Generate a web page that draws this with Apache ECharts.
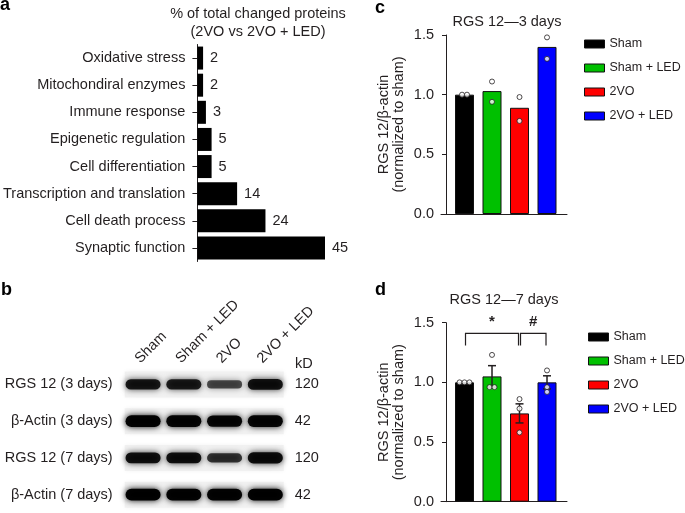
<!DOCTYPE html>
<html>
<head>
<meta charset="utf-8">
<script src="https://cdn.jsdelivr.net/npm/echarts@6/dist/echarts.min.js"></script>
<style>
  html, body { margin: 0; padding: 0; background: #fff; }
  #main { width: 685px; height: 513px; }
</style>
</head>
<body>
<div id="main"></div>
<script>
var font = '"Liberation Sans", Arial, Helvetica, sans-serif';
var ink = '#231f20';
var fs = 14.5;

// panel a - proteomics categories
var proteinCats = ['Oxidative stress', 'Mitochondiral enzymes', 'Immune response', 'Epigenetic regulation',
    'Cell differentiation', 'Transcription and translation', 'Cell death process', 'Synaptic function'];
var proteinPct = [2, 2, 3, 5, 5, 14, 24, 45];

// groups shared by b, c, d
var groups = ['Sham', 'Sham + LED', '2VO', '2VO + LED'];
var groupColors = ['#000000', '#00c000', '#ff0000', '#0000ff'];

// panel c - 3 days
var day3Mean = [1.0, 1.03, 0.89, 1.40];
var day3Points = [[1.0, 1.0], [1.11, 0.94], [0.98, 0.78], [1.48, 1.30]];

// panel d - 7 days
var day7Mean = [1.0, 1.05, 0.74, 1.0];
var day7Sem = [0, 0.09, 0.08, 0.055];
var day7Points = [[1.0, 1.0, 1.0], [1.23, 0.96, 0.96], [0.86, 0.78, 0.58], [1.10, 0.96, 0.92]];
var day7Compare = [[0, 2], [2, 3]];
var compareMarks = ['*', '#'];
var compareLevel = 1.41;

// panel b - western blot
var blotRows = ['RGS 12 (3 days)', 'β-Actin (3 days)', 'RGS 12 (7 days)', 'β-Actin (7 days)'];
var blotKd = ['120', '42', '120', '42'];
var bandDensity = [
    [0.80, 0.78, 0.52, 0.84],
    [0.97, 0.95, 0.93, 0.94],
    [0.85, 0.85, 0.64, 0.88],
    [0.97, 0.96, 0.96, 0.98]
];

// spread dots that share (nearly) the same value
function jitter(vals, gi) {
    return vals.map(function (v, k) {
        var same = [];
        vals.forEach(function (w, j) { if (Math.abs(w - v) < 0.03) same.push(j); });
        var rank = same.indexOf(k);
        return [gi + (rank - (same.length - 1) / 2) * 0.18, v];
    });
}

function dotSeries(points, ax) {
    var data = [];
    points.forEach(function (p, i) { data = data.concat(jitter(p, i)); });
    return {
        type: 'scatter', xAxisIndex: ax, yAxisIndex: ax, data: data, symbolSize: 5, z: 6,
        itemStyle: { color: '#fff', borderColor: ink, borderWidth: 1 }, silent: true
    };
}

function barSeries(means, ax) {
    return means.map(function (m, i) {
        return {
            type: 'bar', name: groups[i], xAxisIndex: ax, yAxisIndex: ax,
            data: [[i, m]], barWidth: 19, barGap: '-100%',
            itemStyle: { color: groupColors[i], borderColor: '#111', borderWidth: 1 }, silent: true
        };
    });
}

function valueX(gi) {
    return {
        type: 'value', gridIndex: gi, min: -0.855, max: 3.727,
        axisLine: { show: true, onZero: false, lineStyle: { color: ink, width: 1 } },
        axisTick: { show: false }, axisLabel: { show: false }, splitLine: { show: false }
    };
}

function valueY(gi) {
    return {
        type: 'value', gridIndex: gi, min: 0, max: 1.5, interval: 0.5, offset: -5,
        axisLine: { show: true, onZero: false, lineStyle: { color: ink, width: 1 } },
        axisTick: { show: true, length: 4, lineStyle: { color: ink } },
        axisLabel: { fontSize: fs, color: ink, margin: 12, formatter: function (v) { return v.toFixed(1); } },
        splitLine: { show: false },
        name: 'RGS 12/β-actin\n(normalized to sham)', nameLocation: 'middle', nameGap: 40,
        nameTextStyle: { fontSize: fs, color: ink, lineHeight: 15 }
    };
}

function legendAt(left, top) {
    return {
        data: groups, orient: 'vertical', left: left, top: top, icon: 'rect', padding: 0,
        itemWidth: 20, itemHeight: 8, itemGap: 8, selectedMode: false,
        itemStyle: { borderColor: '#111', borderWidth: 1 },
        textStyle: { fontSize: 12.5, color: ink, lineHeight: 16 }
    };
}

var errorData = [];
day7Mean.forEach(function (m, i) {
    if (day7Sem[i] > 0) errorData.push([i, m - day7Sem[i], m + day7Sem[i]]);
});

var bandData = [];
bandDensity.forEach(function (row, r) {
    row.forEach(function (d, l) { bandData.push([l, r, d]); });
});

var option = {
    animation: false,
    textStyle: { fontFamily: font },
    title: [
        { text: '% of total changed proteins\n(2VO vs 2VO + LED)', left: 253, top: 0, textAlign: 'center',
          textStyle: { fontSize: fs, fontWeight: 'normal', color: ink, lineHeight: 18 } },
        { text: 'RGS 12\u20143 days', left: 502, top: 9, textAlign: 'center',
          textStyle: { fontSize: fs, fontWeight: 'normal', color: ink, lineHeight: 16 } },
        { text: 'RGS 12\u20147 days', left: 499, top: 287, textAlign: 'center',
          textStyle: { fontSize: fs, fontWeight: 'normal', color: ink, lineHeight: 16 } }
    ],
    legend: [legendAt(584, 36), legendAt(588, 329)],
    grid: [
        { left: 196, top: 44.5, width: 129, height: 217 },
        { left: 441, top: 35, width: 126, height: 179 },
        { left: 441, top: 322.7, width: 126, height: 179 },
        { left: 122.7, top: 366, width: 163, height: 149 },
        { left: 117, top: 366, width: 163, height: 10 }
    ],
    xAxis: [
        { type: 'value', gridIndex: 0, min: 0, max: 45, show: false },
        valueX(1),
        valueX(2),
        { type: 'category', gridIndex: 3, data: groups, show: false },
        { type: 'category', gridIndex: 4, data: groups, position: 'top',
          axisLine: { show: false }, axisTick: { show: false },
          axisLabel: { interval: 0, rotate: 45, margin: 5, fontSize: fs, color: ink } }
    ],
    yAxis: [
        { type: 'category', gridIndex: 0, data: proteinCats, inverse: true,
          axisLine: { show: true, lineStyle: { color: ink } },
          axisTick: { show: true, length: 5, alignWithLabel: true, lineStyle: { color: ink } },
          axisLabel: { fontSize: fs, color: ink, margin: 12 } },
        valueY(1),
        valueY(2),
        { type: 'category', gridIndex: 3, data: blotRows, inverse: true,
          axisLine: { show: false }, axisTick: { show: false },
          axisLabel: { fontSize: fs, color: ink, margin: 10 } },
        { type: 'category', gridIndex: 3, data: blotKd, inverse: true, position: 'right',
          axisLine: { show: false }, axisTick: { show: false },
          axisLabel: { fontSize: fs, color: ink, margin: 9 } },
        { type: 'value', gridIndex: 4, show: false }
    ],
    series: [
        { type: 'bar', xAxisIndex: 0, yAxisIndex: 0, data: proteinPct, barWidth: 23, silent: true,
          itemStyle: { color: '#000' },
          label: { show: true, position: 'right', distance: 7, fontSize: fs, color: ink } }
    ].concat(barSeries(day3Mean, 1), barSeries(day7Mean, 2), [
        {
            type: 'custom', xAxisIndex: 2, yAxisIndex: 2, data: errorData, z: 5, silent: true,
            encode: { x: 0, y: [1, 2] },
            renderItem: function (params, api) {
                var lo = api.coord([api.value(0), api.value(1)]);
                var hi = api.coord([api.value(0), api.value(2)]);
                var st = { stroke: ink, lineWidth: 1.5 };
                return { type: 'group', children: [
                    { type: 'line', shape: { x1: lo[0], y1: lo[1], x2: hi[0], y2: hi[1] }, style: st },
                    { type: 'line', shape: { x1: hi[0] - 4, y1: hi[1], x2: hi[0] + 4, y2: hi[1] }, style: st },
                    { type: 'line', shape: { x1: lo[0] - 4, y1: lo[1], x2: lo[0] + 4, y2: lo[1] }, style: st }
                ] };
            }
        },
        dotSeries(day3Points, 1),
        dotSeries(day7Points, 2),
        {
            type: 'custom', xAxisIndex: 2, yAxisIndex: 2, silent: true, z: 5,
            data: day7Compare.map(function (c) { return [c[0], c[1], compareLevel]; }),
            encode: { x: [0, 1], y: 2 },
            renderItem: function (params, api) {
                var a = api.coord([api.value(0), api.value(2)]);
                var b = api.coord([api.value(1), api.value(2)]);
                var x1 = a[0] + 1, x2 = b[0] - 1, y = a[1];
                return { type: 'group', children: [
                    { type: 'polyline', shape: { points: [[x1, y + 12], [x1, y], [x2, y], [x2, y + 12]] },
                      style: { stroke: ink, lineWidth: 1.2, fill: null } },
                    { type: 'text', x: (x1 + x2) / 2, y: y - 12,
                      style: { text: compareMarks[params.dataIndex], align: 'center', verticalAlign: 'middle',
                               font: 'bold 15px ' + font, fill: ink } }
                ] };
            }
        },
        {
            type: 'custom', xAxisIndex: 3, yAxisIndex: 3, silent: true, z: 1,
            data: blotRows.map(function (r, i) { return [0, i]; }),
            encode: { x: 0, y: 1 },
            renderItem: function (params, api) {
                var cs = params.coordSys;
                var y = api.coord([0, api.value(1)])[1];
                return { type: 'rect', shape: { x: cs.x + 2, y: y - 13, width: cs.width - 4, height: 26 },
                         style: { fill: '#f1f1f1', shadowBlur: 5, shadowColor: '#f1f1f1' } };
            }
        },
        {
            type: 'custom', xAxisIndex: 3, yAxisIndex: 3, silent: true, z: 2,
            data: bandData, encode: { x: 0, y: 1 },
            renderItem: function (params, api) {
                var c = api.coord([api.value(0), api.value(1)]);
                var d = api.value(2);
                var bw = params.coordSys.width / groups.length * 0.86;
                var h = 4 + 8 * d;
                var col = 'rgba(0,0,0,' + (0.25 + 0.75 * d).toFixed(2) + ')';
                return { type: 'rect', shape: { x: c[0] - bw / 2, y: c[1] - h / 2, width: bw, height: h, r: h / 2 },
                         style: { fill: col, shadowBlur: 6, shadowColor: col } };
            }
        }
    ]),
    graphic: [
        { type: 'text', left: 0, top: -4, style: { text: 'a', font: 'bold 18px ' + font, fill: '#000' } },
        { type: 'text', left: 1, top: 281, style: { text: 'b', font: 'bold 18px ' + font, fill: '#000' } },
        { type: 'text', left: 375, top: -1, style: { text: 'c', font: 'bold 18px ' + font, fill: '#000' } },
        { type: 'text', left: 375, top: 281, style: { text: 'd', font: 'bold 18px ' + font, fill: '#000' } },
        { type: 'text', left: 295, top: 356, style: { text: 'kD', font: fs + 'px ' + font, fill: ink } }
    ]
};

var chart = echarts.init(document.getElementById('main'));
chart.setOption(option);
</script>
</body>
</html>
